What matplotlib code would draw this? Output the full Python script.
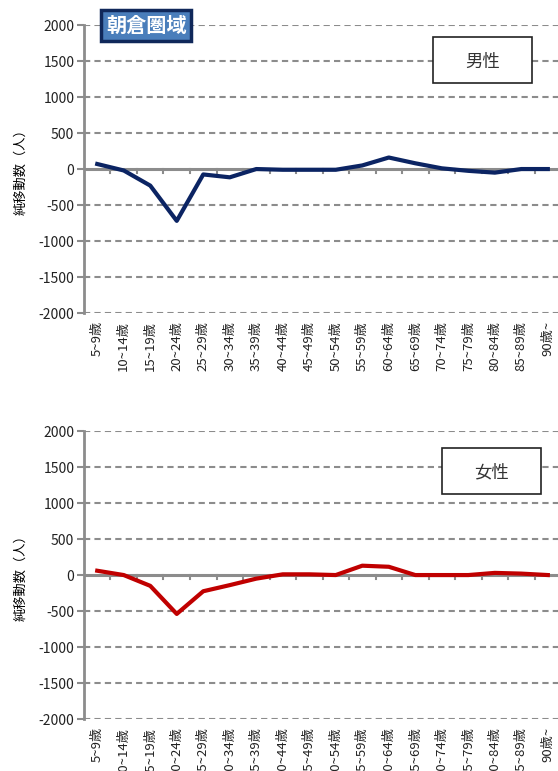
import matplotlib
matplotlib.use("Agg")
import matplotlib.pyplot as plt
from matplotlib.patches import Rectangle
import numpy as np

plt.rcParams['font.family'] = ['Noto Sans CJK JP', 'DejaVu Sans']

ages = ['5~9歳', '10~14歳', '15~19歳', '20~24歳', '25~29歳', '30~34歳',
        '35~39歳', '40~44歳', '45~49歳', '50~54歳', '55~59歳', '60~64歳',
        '65~69歳', '70~74歳', '75~79歳', '80~84歳', '85~89歳', '90歳~']
male = [70, -20, -230, -720, -75, -115, 0, -10, -10, -10, 50, 160,
        80, 10, -25, -50, 0, 0]
female = [60, 0, -150, -540, -225, -140, -50, 10, 10, 0, 130, 115,
          0, 0, 0, 30, 20, 0]
yticks = [-2000, -1500, -1000, -500, 0, 500, 1000, 1500, 2000]

GRAY = '#8c8c8c'


def draw(ax, values, color, label, box_c):
    x = np.arange(len(ages))
    ax.set_xlim(-0.5, len(ages) - 0.5)
    ax.set_ylim(-2000, 2000)
    for y in yticks:
        if y != 0:
            ax.axhline(y, color=GRAY, lw=1.5, ls=(0, (3, 2)), zorder=1)
    ax.axhline(0, color=GRAY, lw=2.2, zorder=2)
    ax.plot(x, values, color=color, lw=3, zorder=3, solid_joinstyle='round')
    for s in ['top', 'right', 'bottom']:
        ax.spines[s].set_visible(False)
    ax.spines['left'].set_color(GRAY)
    ax.spines['left'].set_linewidth(2)
    ax.set_yticks(yticks)
    ax.set_yticklabels([str(v) for v in yticks], fontsize=10, color='#222222')
    ax.tick_params(axis='y', length=5, width=1.5, color=GRAY, pad=2)
    # category labels sit under the axes, boundary ticks on the zero line
    ax.set_xticks([])
    for i in range(1, len(ages) + 1):
        ax.plot([i - 0.5, i - 0.5], [0, -60], color=GRAY, lw=1.5, zorder=2)
    for i, lab in enumerate(ages):
        ax.text(i, -2110, lab, rotation=90, ha='center', va='top',
                fontsize=9.5, color='#222222', clip_on=False)
    ax.set_ylabel('純移動数（人）', fontsize=9.5, labelpad=8)
    w, h = 0.2075, 0.16
    ax.add_patch(Rectangle((box_c[0] - w / 2, box_c[1] - h / 2), w, h,
                           transform=ax.transAxes, fc='white', ec='#222222',
                           lw=1.2, zorder=5))
    ax.text(box_c[0], box_c[1] - 0.005, label, transform=ax.transAxes,
            fontsize=12.5, ha='center', va='center', color='#333333',
            zorder=6)


fig = plt.figure(figsize=(5.58, 7.71), dpi=100)
ax1 = fig.add_axes([0.1505, 0.594, 0.855, 0.3735])
ax2 = fig.add_axes([0.1505, 0.0674, 0.855, 0.3735])
draw(ax1, male, '#0b2463', '男性', (0.836, 0.878))
draw(ax2, female, '#c00000', '女性', (0.855, 0.861))

fig.text(0.262, 0.967, '朝倉圏域', fontsize=14.5, fontweight='bold',
         color='white', ha='center', va='center',
         bbox=dict(boxstyle='square,pad=0.25', fc='#4a7ebb', ec='#10285a',
                   lw=2.5))

fig.savefig('out.png', dpi=100)
